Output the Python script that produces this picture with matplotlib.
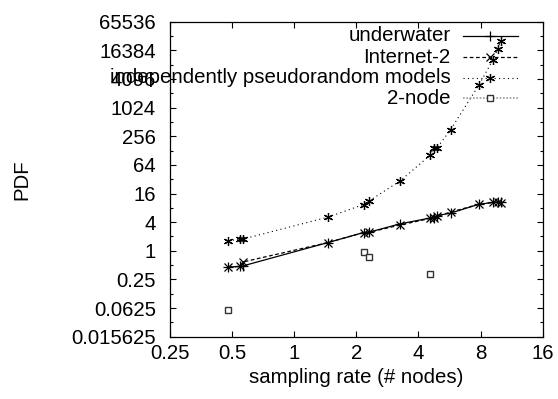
import matplotlib
matplotlib.use("Agg")
import matplotlib.pyplot as plt
from matplotlib.ticker import FixedLocator, NullFormatter

plt.rcParams['font.family'] = ['Liberation Sans', 'DejaVu Sans']

# data
x_vals = [0.48, 0.547, 0.563, 1.457, 2.17, 2.31, 3.27, 4.57, 4.75, 4.93, 5.72, 7.85, 9.2, 9.7, 10.0]
underwater = [0.455, 0.469, 0.48, 1.49, 2.42, 2.47, 3.7, 4.9, 5.0, 5.5, 6.2, 9.5, 10.4, 10.5, 10.4]
internet2 = [0.455, 0.47, 0.58, 1.49, 2.42, 2.45, 3.5, 4.8, 4.9, 5.3, 6.5, 9.5, 10.4, 10.6, 10.3]
indep = [1.62, 1.76, 1.76, 5.1, 9.4, 11.2, 29.8, 103, 147, 147, 350, 3040, 10500, 17900, 25900]
two_x = [0.48, 2.17, 2.31, 4.57]
two_y = [0.058, 0.94, 0.74, 0.32]

x_ticks = [0.25, 0.5, 1, 2, 4, 8, 16]
x_labels = ["0.25", "0.5", "1", "2", "4", "8", "16"]
y_ticks = [2.0 ** k for k in range(-6, 17, 2)]
y_labels = ["0.015625", "0.0625", "0.25", "1", "4", "16", "64", "256", "1024", "4096", "16384", "65536"]
y_minor = [2.0 ** k for k in range(-5, 16, 2)]

labels = ["underwater", "Internet-2", "independently pseudorandom models", "2-node"]

fig = plt.figure(figsize=(5.58, 3.99), dpi=100)
ax = fig.add_axes([170 / 558, 1 - 336.7 / 399, (542.7 - 170) / 558, (336.7 - 21.7) / 399])
ax.set_xscale('log', base=2)
ax.set_yscale('log', base=2)

ms = 6.5
ax.plot(x_vals, underwater, '-', color='black', lw=0.9, marker='+', ms=ms, mew=0.9)
ax.plot(x_vals, internet2, '--', color='black', lw=0.9, marker='x', ms=ms * 0.8, mew=0.9, dashes=(3, 2))
ax.plot(x_vals, indep, ':', color='black', lw=0.8, marker=(6, 2, 0), ms=ms, mew=0.9, dashes=(1, 3))
ax.plot(two_x, two_y, linestyle='none', marker='s', ms=5, mfc='white', mec='#333333', mew=1.0)

ax.set_xlim(0.25, 16)
ax.set_ylim(2.0 ** -6, 2.0 ** 16)
ax.xaxis.set_major_locator(FixedLocator(x_ticks))
ax.set_xticklabels(x_labels)
ax.xaxis.set_minor_locator(FixedLocator([]))
ax.yaxis.set_major_locator(FixedLocator(y_ticks))
ax.set_yticklabels(y_labels)
ax.yaxis.set_minor_locator(FixedLocator(y_minor))
ax.yaxis.set_minor_formatter(NullFormatter())

fs = 14.7
ax.tick_params(which='both', direction='in', top=True, right=True, width=0.8, labelsize=fs)
ax.tick_params(which='major', length=4.5)
ax.tick_params(which='minor', length=2.5)
ax.tick_params(axis='y', which='major', pad=10)
ax.tick_params(axis='x', which='major', pad=5)
for s in ax.spines.values():
    s.set_linewidth(0.9)

ax.set_xlabel("sampling rate (# nodes)", fontsize=fs, labelpad=4)
ax.set_ylabel("PDF", fontsize=fs)
ax.yaxis.set_label_coords(-0.371, 0.5)

# legend (manual, gnuplot style: right-aligned text then sample)
tr = ax.transAxes
rows_y = [0.955, 0.887, 0.822, 0.757]
styles = [
    dict(ls='-', color='black', lw=0.9, marker='+', ms=ms, mew=0.9),
    dict(ls='--', color='black', lw=0.9, marker='x', ms=ms * 0.8, mew=0.9, dashes=(3, 2)),
    dict(ls=':', color='black', lw=0.8, marker=(6, 2, 0), ms=ms, mew=0.9, dashes=(1, 3)),
    dict(ls=':', color='#999999', lw=1.2, marker='s', ms=5, mfc='white', mec='#333333', mew=1.0, dashes=(1, 1)),
]
for lab, yy, st in zip(labels, rows_y, styles):
    ax.text(0.753, yy, lab, transform=tr, ha='right', va='center', fontsize=fs)
    st = dict(st)
    mk = st.pop('marker')
    msz = st.pop('ms')
    mew = st.pop('mew')
    mfc = st.pop('mfc', None)
    mec = st.pop('mec', None)
    ax.plot([0.785, 0.933], [yy, yy], transform=tr, clip_on=False, **st)
    kw = dict(marker=mk, ms=msz, mew=mew, color=st['color'] if mec is None else mec, ls='none')
    if mfc is not None:
        kw['mfc'] = mfc
    ax.plot([0.859], [yy], transform=tr, clip_on=False, **kw)

fig.savefig("out.png", dpi=100)
